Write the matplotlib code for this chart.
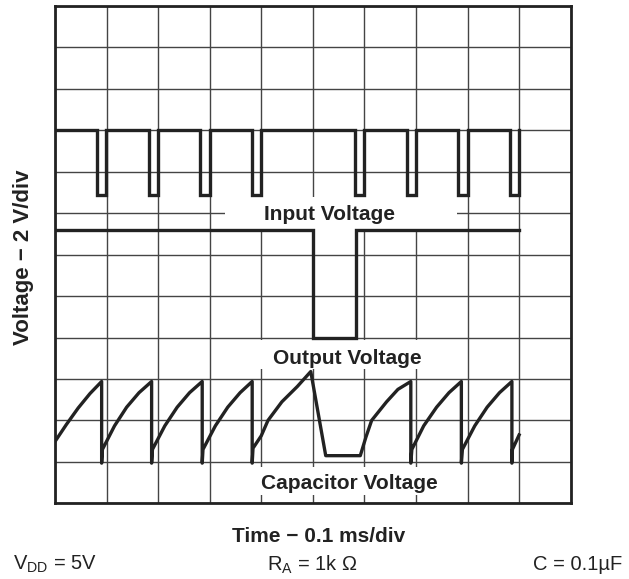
import numpy as np
import matplotlib.pyplot as plt
from matplotlib.patches import Rectangle

plt.rcParams['font.family'] = ['Liberation Sans', 'DejaVu Sans']
plt.rcParams['mathtext.default'] = 'regular'

# scope screen: 10 x 12 divisions
n_xdiv = 10
n_ydiv = 12

# input voltage: high level with short low pulses
in_high = 9.0
in_low = 7.45
in_pulse_start = [0.81, 1.83, 2.81, 3.82, 5.81, 6.83, 7.82, 8.83]
in_pulse_end = [0.99, 2.0, 3.0, 4.0, 6.0, 7.0, 8.0, 9.0]

# output voltage
out_t = [0.0, 5.0, 5.0, 5.83, 5.83, 9.0]
out_v = [6.6, 6.6, 4.0, 4.0, 6.6, 6.6]

# capacitor voltage
cap_t = [0.0, 0.22, 0.45, 0.68, 0.905, 0.905,
         0.92, 1.155, 1.39, 1.63, 1.874, 1.874,
         1.89, 2.13, 2.37, 2.61, 2.855, 2.855,
         2.87, 3.11, 3.35, 3.59, 3.824, 3.824,
         3.84, 4.0, 4.13, 4.4, 4.7, 4.96, 5.25,
         5.92, 6.03, 6.14, 6.43, 6.65, 6.90, 6.90,
         6.92, 7.15, 7.4, 7.64, 7.88, 7.88,
         7.90, 8.14, 8.38, 8.62, 8.86, 8.86,
         8.87, 9.0]
cap_v = [1.49, 1.90, 2.30, 2.65, 2.94, 0.97,
         1.30, 1.87, 2.32, 2.67, 2.94, 0.97,
         1.30, 1.87, 2.32, 2.67, 2.94, 0.97,
         1.30, 1.87, 2.32, 2.67, 2.94, 0.97,
         1.33, 1.63, 2.0, 2.45, 2.82, 3.18, 1.15,
         1.15, 1.6, 2.0, 2.45, 2.75, 2.94, 0.97,
         1.30, 1.87, 2.32, 2.67, 2.94, 0.97,
         1.30, 1.87, 2.32, 2.67, 2.94, 0.97,
         1.30, 1.65]

# build the input step trace from the pulse edges
in_t = [0.0]
in_v = [in_high]
for s, e in zip(in_pulse_start, in_pulse_end):
    in_t += [s, s, e, e]
    in_v += [in_high, in_low, in_low, in_high]

fig = plt.figure(figsize=(6.29, 5.79), dpi=100)
ax = fig.add_axes([0.0874, 0.1307, 0.8199, 0.8589])
ax.set_xlim(0, n_xdiv)
ax.set_ylim(0, n_ydiv)
ax.set_xticks(range(n_xdiv + 1))
ax.set_yticks(range(n_ydiv + 1))
ax.tick_params(length=0, labelbottom=False, labelleft=False)
ax.grid(True, color='#444444', linewidth=1.0)
ax.set_axisbelow(True)
for sp in ax.spines.values():
    sp.set_linewidth(2.0)
    sp.set_color('#222222')

# white patches behind the labels
for y0, y1 in [(6.63, 7.40), (3.24, 3.95), (0.20, 0.88)]:
    ax.add_patch(Rectangle((3.29, y0), 4.5, y1 - y0, facecolor='white',
                           edgecolor='none', zorder=1))

lw = 2.4
col = '#222222'
ax.plot(in_t, in_v, color=col, lw=lw, solid_joinstyle='miter', zorder=3)
ax.plot(out_t, out_v, color=col, lw=lw, solid_joinstyle='miter', zorder=3)
ax.plot(cap_t, cap_v, color=col, lw=lw, zorder=3)

ax.text(5.33, 6.83, 'Input Voltage', fontsize=15, fontweight='bold',
        ha='center', va='baseline', color='#222222', zorder=4)
ax.text(5.66, 3.36, 'Output Voltage', fontsize=15, fontweight='bold',
        ha='center', va='baseline', color='#222222', zorder=4)
ax.text(5.71, 0.345, 'Capacitor Voltage', fontsize=15, fontweight='bold',
        ha='center', va='baseline', color='#222222', zorder=4)

fig.text(0.038, 0.555, 'Voltage \u2212 2 V/div', rotation=90, fontsize=16,
         fontweight='bold', ha='center', va='center', color='#222222')
fig.text(0.507, 0.0644, 'Time \u2212 0.1 ms/div', fontsize=15,
         fontweight='bold', ha='center', va='baseline', color='#222222')

fig.text(0.020, 0.0164, r'V$_{DD}$ = 5V', fontsize=14.5, ha='left',
         va='baseline', color='#222222')
fig.text(0.425, 0.0138, r'R$_{A}$ = 1k $\Omega$', fontsize=14.5, ha='left',
         va='baseline', color='#222222')
fig.text(0.848, 0.0155, 'C = 0.1\u00b5F', fontsize=14.5, ha='left',
         va='baseline', color='#222222')

fig.savefig('out.png', dpi=100)
